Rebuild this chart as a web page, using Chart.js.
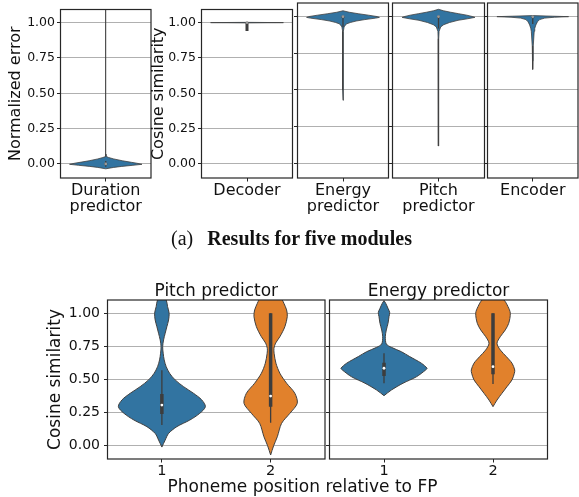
<!DOCTYPE html>
<html><head><meta charset="utf-8">
<script src="https://cdn.jsdelivr.net/npm/chart.js@4.4.0/dist/chart.umd.min.js"></script>
<style>
html,body{margin:0;padding:0;background:#fff;}
#wrap{position:relative;width:579px;height:497px;overflow:hidden;background:#fff;}
canvas{position:absolute;left:0;top:0;}
.t{position:absolute;font-family:"DejaVu Sans";color:#111;white-space:nowrap;line-height:1;transform:translateX(-50%);}
.cap{position:absolute;font-family:"Liberation Serif","Times New Roman",serif;color:#111;white-space:nowrap;line-height:1;transform:translateX(-50%);}
</style></head><body>
<div id="wrap">
<canvas id="t1" width="579" height="497"></canvas>
<canvas id="t2" width="579" height="497"></canvas>
<canvas id="t3" width="579" height="497"></canvas>
<canvas id="t4" width="579" height="497"></canvas>
<canvas id="t5" width="579" height="497"></canvas>
<canvas id="b1" width="579" height="497"></canvas>
<canvas id="b2" width="579" height="497"></canvas>
<div class="cap" style="left:291.5px;top:228.2px;font-size:20px;">(a)<span style="font-weight:bold;margin-left:14px;">Results for five modules</span></div>
<div class="t" id="bt1" style="left:216.3px;top:282.3px;font-size:17px;"></div>
<div class="t" id="bt2" style="left:438.5px;top:282.3px;font-size:17px;"></div>
<div class="t" id="bxl" style="left:302.5px;top:478.3px;font-size:17px;"></div>
</div>
<script>
// ---------------- data ----------------
const topModules = ['Duration predictor', 'Decoder', 'Energy predictor', 'Pitch predictor', 'Encoder'];
const topYTicks = [0, 0.25, 0.5, 0.75, 1.0];
const bottomPanels = ['Pitch predictor', 'Energy predictor'];
const positions = ['1', '2'];
const bottomYTicks = [0, 0.25, 0.5, 0.75, 1.0];
const topYLabelLeft = 'Normalized error';
const yLabelSim = 'Cosine similarity';
const bottomXLabel = 'Phoneme position relative to FP';

// violin profiles: values and relative density (half-width, 1 = widest violin)
const durationVals = [-0.035, -0.025, -0.018, -0.01, -0.003, 0.005, 0.011, 0.022, 0.035, 0.045, 0.052, 0.07, 0.3, 0.7, 1.1];
const durationDens = [0, 0.22, 0.44, 0.75, 1.0, 0.85, 0.71, 0.46, 0.22, 0.08, 0.02, 0.006, 0.003, 0.003, 0.003];
const decoderVals = [0.998, 1.0, 1.002];
const decoderDens = [0, 1.0, 0];
const energyTopVals = [0.43, 0.5, 0.55, 0.6, 0.7, 0.8, 0.9, 0.93, 0.95, 0.96, 0.97, 0.98, 0.99, 0.995, 1.0, 1.01, 1.02, 1.03, 1.04];
const energyTopDens = [0, 0.006, 0.016, 0.016, 0.006, 0.006, 0.01, 0.03, 0.09, 0.2, 0.36, 0.6, 0.9, 1.0, 0.95, 0.7, 0.42, 0.17, 0];
const pitchTopVals = [0.118, 0.2, 0.3, 0.45, 0.6, 0.75, 0.85, 0.9, 0.93, 0.945, 0.96, 0.975, 0.985, 0.995, 1.0, 1.01, 1.02, 1.03, 1.04, 1.05];
const pitchTopDens = [0, 0.004, 0.005, 0.005, 0.006, 0.007, 0.009, 0.016, 0.06, 0.14, 0.3, 0.53, 0.78, 0.989, 0.934, 0.769, 0.549, 0.33, 0.137, 0];
const encoderVals = [0.64, 0.7, 0.8, 0.9, 0.92, 0.943, 0.965, 0.98, 0.99, 0.996, 1.0, 1.003, 1.007];
const encoderDens = [0, 0.008, 0.014, 0.04, 0.055, 0.085, 0.13, 0.19, 0.33, 0.6, 0.99, 0.55, 0];

const pitchPos1Vals = [-0.01, 0.043, 0.093, 0.144, 0.194, 0.245, 0.295, 0.346, 0.396, 0.446, 0.497, 0.547, 0.597, 0.648, 0.698, 0.748, 0.799, 0.849, 0.899, 0.949, 1.0, 1.05, 1.1, 1.14];
const pitchPos1Dens = [0, 0.076, 0.154, 0.344, 0.642, 0.872, 1.0, 0.917, 0.727, 0.498, 0.305, 0.177, 0.099, 0.053, 0.03, 0.018, 0.039, 0.076, 0.115, 0.154, 0.167, 0.131, 0.1, 0];
const pitchPos2Vals = [-0.07, 0.0, 0.068, 0.169, 0.245, 0.32, 0.396, 0.472, 0.547, 0.623, 0.698, 0.735, 0.775, 0.823, 0.899, 0.975, 1.025, 1.075, 1.1, 1.15, 1.2];
const pitchPos2Dens = [0, 0.069, 0.154, 0.252, 0.443, 0.612, 0.557, 0.367, 0.213, 0.122, 0.08, 0.076, 0.115, 0.213, 0.328, 0.383, 0.367, 0.305, 0.268, 0.15, 0];
const energyPos1Vals = [0.378, 0.42, 0.472, 0.52, 0.572, 0.585, 0.623, 0.673, 0.71, 0.743, 0.768, 0.823, 0.874, 0.924, 0.975, 1.005, 1.037, 1.075, 1.095];
const energyPos1Dens = [0, 0.167, 0.436, 0.741, 0.956, 0.986, 0.856, 0.589, 0.397, 0.167, 0.053, 0.03, 0.053, 0.092, 0.115, 0.131, 0.092, 0.039, 0];
const energyPos2Vals = [0.295, 0.345, 0.396, 0.446, 0.497, 0.547, 0.572, 0.623, 0.673, 0.723, 0.773, 0.823, 0.874, 0.924, 1.0, 1.05, 1.1, 1.16];
const energyPos2Dens = [0, 0.092, 0.206, 0.321, 0.436, 0.489, 0.498, 0.436, 0.305, 0.167, 0.092, 0.167, 0.282, 0.36, 0.397, 0.344, 0.252, 0];

// inner box stats: [lower whisker, Q1, median, Q3, upper whisker]
const durationBox = [-0.02, -0.006, 0.0, 0.006, 0.02];
const decoderBox = [0.94, 0.94, 1.0, 1.005, 1.005];
const energyTopBox = [0.93, 0.99, 1.0, 1.005, 1.01];
const pitchTopBox = [0.92, 0.99, 1.0, 1.005, 1.01];
const encoderBox = [0.95, 0.99, 0.999, 1.0, 1.0];
const pitchPos1Box = [0.156, 0.24, 0.307, 0.39, 0.57];
const pitchPos2Box = [0.174, 0.295, 0.375, 1.0, 1.0];
const energyPos1Box = [0.472, 0.526, 0.585, 0.627, 0.698];
const energyPos2Box = [0.466, 0.54, 0.597, 1.0, 1.0];

// ---------------- drawing ----------------
const W = 579, H = 497;
const BLUE = '#3274a1', ORANGE = '#e1812c', EDGE = '#404040', INNER = '#3d3d3d';
const GRID = '#b0b0b0', TEXT = '#111', FRAME = '#262626';
const HALF = 0.4;

function violinSets(center, vals, dens, box, color, tension, thick, edgeW, dotColor) {
  const poly = [];
  for (let i = 0; i < vals.length; i++) poly.push({x: center + dens[i] * HALF, y: vals[i]});
  for (let i = vals.length - 1; i >= 0; i--) poly.push({x: center - dens[i] * HALF, y: vals[i]});
  poly.push({x: poly[0].x, y: poly[0].y});
  return [
    {data: poly, backgroundColor: color, borderColor: EDGE, borderWidth: edgeW, fill: 'shape', tension: tension, pointRadius: 0, order: 3},
    {data: [{x: center, y: box[0]}, {x: center, y: box[4]}], borderColor: INNER, borderWidth: 1.3, pointRadius: 0, fill: false, order: 2, borderCapStyle: 'butt'},
    {data: [{x: center, y: box[1]}, {x: center, y: box[3]}], borderColor: INNER, borderWidth: thick, pointRadius: 0, fill: false, order: 1, borderCapStyle: 'butt'},
    {data: [{x: center, y: box[2]}], showLine: false, pointRadius: 1.4, pointBackgroundColor: dotColor, pointBorderWidth: 0, order: 0}
  ];
}

const framePlugin = {
  id: 'frame',
  afterDraw(chart) {
    const {ctx, chartArea: a} = chart;
    ctx.save();
    ctx.strokeStyle = FRAME; ctx.lineWidth = 1.2;
    ctx.strokeRect(a.left, a.top, a.right - a.left, a.bottom - a.top);
    ctx.restore();
  }
};

function makeChart(id, area, cfg) {
  const n = cfg.xLabels.length;
  return new Chart(document.getElementById(id), {
    type: 'line',
    data: {datasets: cfg.datasets},
    options: {
      responsive: false, animation: false, events: [],
      layout: {autoPadding: false, padding: {left: 0, top: area.top, right: W - area.right, bottom: 0}},
      plugins: {legend: {display: false}, tooltip: {enabled: false}, title: {display: false}},
      scales: {
        x: {
          type: 'linear', min: -0.5, max: n - 0.5,
          afterBuildTicks: s => { s.ticks = cfg.xLabels.map((_, i) => ({value: i})); },
          afterFit: s => { s.height = H - area.bottom; },
          grid: {drawOnChartArea: false, drawTicks: true, tickLength: 3.5, tickColor: FRAME, tickWidth: 1},
          border: {display: false},
          ticks: {autoSkip: false, maxRotation: 0, minRotation: 0, padding: cfg.xPad, color: TEXT, font: cfg.xFont,
                  callback: v => cfg.xLabels[Math.round(v)]}
        },
        y: {
          type: 'linear', min: cfg.yMin, max: cfg.yMax, z: 1,
          afterBuildTicks: s => { s.ticks = cfg.yTicks.map(v => ({value: v})); },
          afterFit: s => { s.width = area.left; },
          grid: {color: GRID, lineWidth: 1, drawTicks: true, tickLength: 3.5, tickColor: FRAME, tickWidth: 1},
          border: {display: false},
          ticks: {display: cfg.showY, padding: cfg.yPad, color: TEXT, font: cfg.yFont, callback: v => v.toFixed(2)},
          title: cfg.yTitle ? {display: true, text: cfg.yTitle, color: TEXT, font: cfg.titleFont, padding: {top: cfg.titlePad, bottom: 0}} : {display: false}
        }
      }
    },
    plugins: [framePlugin]
  });
}

const topXFont = {family: 'DejaVu Sans', size: 16, lineHeight: 0.96};
const topYFont = {family: 'DejaVu Sans', size: 12.5};
const topTitleFont = {family: 'DejaVu Sans', size: 16, lineHeight: 1};
const botXFont = {family: 'DejaVu Sans', size: 14.5, lineHeight: 1.2};
const botYFont = {family: 'DejaVu Sans', size: 14};
const botTitleFont = {family: 'DejaVu Sans', size: 17, lineHeight: 1};
const split = s => s.split(' ');

const topAreas = [
  {left: 60.5, right: 151, top: 3, bottom: 178},
  {left: 201.5, right: 292.5, top: 3, bottom: 178},
  {left: 297.5, right: 388.5, top: 3, bottom: 178},
  {left: 392.5, right: 484.5, top: 3, bottom: 178},
  {left: 487.5, right: 578, top: 3, bottom: 178}
];
const topProfiles = [
  [durationVals, durationDens, durationBox],
  [decoderVals, decoderDens, decoderBox],
  [energyTopVals, energyTopDens, energyTopBox],
  [pitchTopVals, pitchTopDens, pitchTopBox],
  [encoderVals, encoderDens, encoderBox]
];
topModules.forEach((name, i) => {
  const [v, d, b] = topProfiles[i];
  const cfg = {
    xLabels: [split(name)], datasets: violinSets(0, v, d, b, BLUE, 0, 3, 0.8, '#9a9a9a'),
    yMin: -0.1, yMax: 1.093, yTicks: topYTicks,
    showY: i <= 1, yPad: 2, yFont: topYFont, xFont: topXFont, xPad: 2,
    yTitle: i === 0 ? topYLabelLeft : (i === 1 ? yLabelSim : null),
    titleFont: topTitleFont, titlePad: i === 0 ? 8.3 : 151
  };
  makeChart('t' + (i + 1), topAreas[i], cfg);
});

const botAreas = [
  {left: 107.5, right: 325, top: 300, bottom: 459},
  {left: 329.5, right: 547.5, top: 300, bottom: 459}
];
const botSets = [
  violinSets(0, pitchPos1Vals, pitchPos1Dens, pitchPos1Box, BLUE, 0.3, 3.5, 1, '#fff')
    .concat(violinSets(1, pitchPos2Vals, pitchPos2Dens, pitchPos2Box, ORANGE, 0.3, 3.5, 1, '#fff')),
  violinSets(0, energyPos1Vals, energyPos1Dens, energyPos1Box, BLUE, 0.3, 3.5, 1, '#fff')
    .concat(violinSets(1, energyPos2Vals, energyPos2Dens, energyPos2Box, ORANGE, 0.3, 3.5, 1, '#fff'))
];
bottomPanels.forEach((name, i) => {
  makeChart('b' + (i + 1), botAreas[i], {
    xLabels: positions, datasets: botSets[i],
    yMin: -0.1, yMax: 1.1, yTicks: bottomYTicks,
    showY: i === 0, yPad: 4, yFont: botYFont, xFont: botXFont, xPad: 0.5,
    yTitle: i === 0 ? yLabelSim : null, titleFont: botTitleFont, titlePad: 47.5
  });
});
document.getElementById('bt1').textContent = bottomPanels[0];
document.getElementById('bt2').textContent = bottomPanels[1];
document.getElementById('bxl').textContent = bottomXLabel;
</script>
</body></html>
